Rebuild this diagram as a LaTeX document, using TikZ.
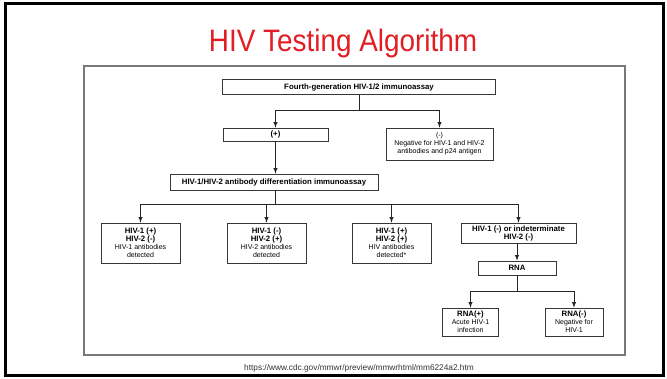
\documentclass[tikz,border=0pt]{standalone}
\usepackage{fontspec}
\setmainfont{Liberation Sans}
\newfontfamily\titlefont[FakeStretch=0.9]{Liberation Sans}
\definecolor{titlered}{RGB}{226,30,36}
\definecolor{framegray}{RGB}{120,120,120}
\definecolor{boxline}{RGB}{55,55,55}
\newcommand{\hv}[1]{{\bfseries\fontsize{7.8}{8}\selectfont #1}}

\begin{document}
\begin{tikzpicture}[x=1pt,y=-1pt]
\tikzstyle{every node}+=[inner sep=0pt]
\tikzstyle{algbox}=[draw=boxline, line width=0.7pt, fill=white, align=center, font=\fontsize{7}{8}\selectfont]
\tikzstyle{flow}=[draw=black!85, line width=0.9pt]
\tikzstyle{flowarrow}=[flow, -latex]
\useasboundingbox (0,0) rectangle (667,378);
\fill [white] (0,0) rectangle (667,378);
\draw [black, line width=3pt] (5,3.5) rectangle (663.5,375.5);
\draw [framegray, line width=1.2pt] (84,66) rectangle (625,355);
\node [anchor=base] (title) at (343,51) {\titlefont\fontsize{31}{31}\selectfont\color{titlered}HIV Testing Algorithm};
% first test
\node [algbox, minimum width=273pt, minimum height=15pt] (fourth) at (359,87) {\hv{Fourth-generation HIV-1/2 immunoassay}};
\node [algbox, minimum width=105pt, minimum height=13pt] (pos) at (275.5,134.5) {\hv{(+)}};
\node [algbox, minimum width=107pt, minimum height=32pt] (neg) at (439.5,144) {(-)\\Negative for HIV-1 and HIV-2\\antibodies and p24 antigen};
\coordinate (split1) at (359,110);
\draw [flow] (fourth.south) -- (split1);
\draw [flowarrow] (split1) -| (pos.north);
\draw [flowarrow] (split1) -| (neg.north);
% differentiation
\node [algbox, minimum width=208pt, minimum height=16pt] (diff) at (274,182) {\hv{HIV-1/HIV-2 antibody differentiation immunoassay}};
\draw [flowarrow] (pos.south) -- (pos.south |- diff.north);
\node [algbox, minimum width=79pt, minimum height=40pt] (hivone) at (140.5,243) {\hv{HIV-1 (+)}\\\hv{HIV-2 (-)}\\HIV-1 antibodies\\detected};
\node [algbox, minimum width=79pt, minimum height=40pt] (hivtwo) at (266.5,243) {\hv{HIV-1 (-)}\\\hv{HIV-2 (+)}\\HIV-2 antibodies\\detected};
\node [algbox, minimum width=79pt, minimum height=40pt] (hivboth) at (391.5,243) {\hv{HIV-1 (+)}\\\hv{HIV-2 (+)}\\HIV antibodies\\detected*};
\node [algbox, minimum width=115pt, minimum height=20pt] (indet) at (518.5,233) {\hv{HIV-1 (-) or indeterminate}\\\hv{HIV-2 (-)}};
\coordinate (split2) at (275.5,204);
\draw [flow] (split2 |- diff.south) -- (split2);
\draw [flowarrow] (split2) -| (hivone.north);
\draw [flowarrow] (split2) -| (hivtwo.north);
\draw [flowarrow] (split2) -| (hivboth.north);
\draw [flowarrow] (split2) -| (indet.north);
% RNA test
\node [algbox, minimum width=78pt, minimum height=14pt] (rna) at (517,268) {\hv{RNA}};
\draw [flowarrow] (rna.north |- indet.south) -- (rna.north);
\node [algbox, minimum width=56pt, minimum height=28pt] (rnapos) at (470.5,322) {\hv{RNA(+)}\\Acute HIV-1\\infection};
\node [algbox, minimum width=58pt, minimum height=28pt] (rnaneg) at (574,322) {\hv{RNA(-)}\\Negative for\\HIV-1};
\coordinate (split3) at (517,291);
\draw [flow] (rna.south) -- (split3);
\draw [flowarrow] (split3) -| (rnapos.north);
\draw [flowarrow] (split3) -| (rnaneg.north);
\node (source) at (359,368) {\fontsize{8.3}{9}\selectfont\color{black!80}https://www.cdc.gov/mmwr/preview/mmwrhtml/mm6224a2.htm};
\end{tikzpicture}
\end{document}
